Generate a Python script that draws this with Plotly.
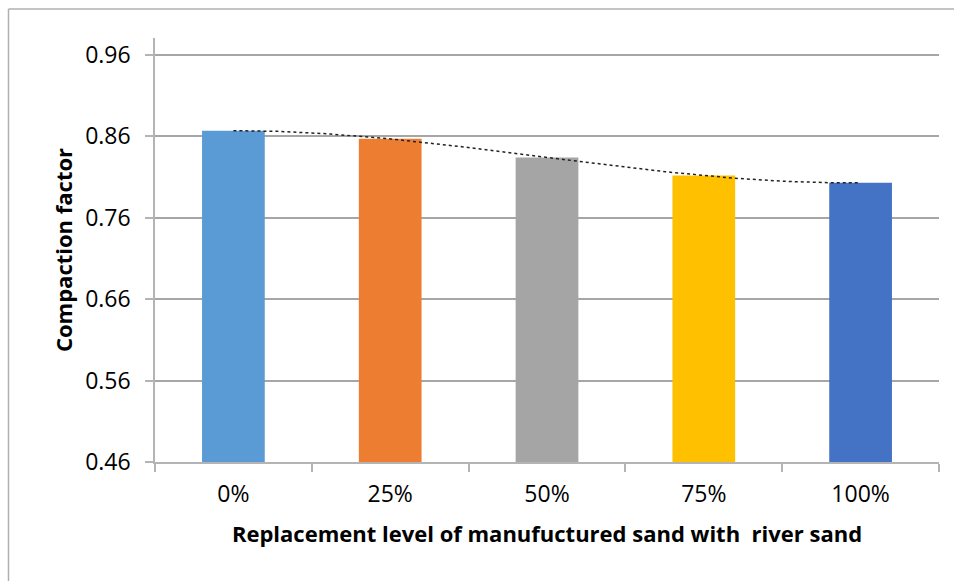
import numpy as np
import plotly.graph_objects as go

# Replacement level categories and measured compaction factor
levels = ["0%", "25%", "50%", "75%", "100%"]
compaction = [0.867, 0.857, 0.834, 0.812, 0.803]
bar_colors = ["#5B9BD5", "#ED7D31", "#A5A5A5", "#FFC000", "#4472C4"]
y_ticks = [0.46, 0.56, 0.66, 0.76, 0.86, 0.96]

W, H = 954, 581
ML, MR, MT, MB = 155, 15, 38, 119
PW, PH = W - ML - MR, H - MT - MB

# Polynomial (order 3) trendline through the bar values
pos = np.arange(len(levels))
coef = np.polyfit(pos, compaction, 3)
tx = np.linspace(0, len(levels) - 1, 200)
ty = np.polyval(coef, tx)

fig = go.Figure()
fig.add_trace(go.Bar(
    x=levels, y=compaction, marker=dict(color=bar_colors, line=dict(width=0)),
    width=0.4, showlegend=False, hoverinfo="x+y",
))
fig.add_trace(go.Scatter(
    x=tx, y=ty, xaxis="x2", mode="lines",
    line=dict(color="#222222", width=1.5, dash="dot"),
    showlegend=False, hoverinfo="skip",
))

font_main = "Open Sans, Lato, DejaVu Sans, sans-serif"


def px_to_paper_x(px):
    return (px - ML) / PW


def px_to_paper_y(py):
    return (H - MB - py) / PH


# Chart-area frame: left and top edges (the rest falls outside the page)
frame_line = dict(color="#b0b0b0", width=1.5)
frame = [
    dict(type="line", xref="paper", yref="paper",
         x0=px_to_paper_x(8.5), x1=px_to_paper_x(8.5),
         y0=px_to_paper_y(H + 5), y1=px_to_paper_y(9), line=frame_line, layer="above"),
    dict(type="line", xref="paper", yref="paper",
         x0=px_to_paper_x(8.5), x1=px_to_paper_x(W + 5),
         y0=px_to_paper_y(9), y1=px_to_paper_y(9), line=frame_line, layer="above"),
]

fig.update_layout(
    width=W, height=H,
    margin=dict(l=ML, r=MR, t=MT, b=MB, pad=0),
    paper_bgcolor="white", plot_bgcolor="white",
    font=dict(family=font_main, color="#000000"),
    xaxis=dict(
        type="category", range=[-0.5, 4.5],
        showline=True, linecolor="#b4b4b4", linewidth=1.5,
        ticks="outside", tickson="boundaries", ticklen=8, tickcolor="#b4b4b4", tickwidth=1.5,
        showgrid=False, tickfont=dict(size=23),
        ticklabelstandoff=11,
        title=dict(text="<b>Replacement level of manufuctured sand with  river sand</b>",
                   font=dict(size=22), standoff=18),
    ),
    xaxis2=dict(
        overlaying="x", range=[-0.5, 4.5], visible=False,
    ),
    yaxis=dict(
        range=[0.46, 0.46 + (PH / 81.4) * 0.1],
        tickvals=y_ticks, ticktext=[f"{v:.2f}" for v in y_ticks],
        showline=True, linecolor="#b4b4b4", linewidth=1.5,
        ticks="outside", ticklen=8, tickcolor="#b4b4b4", tickwidth=1.5,
        showgrid=True, gridcolor="#a6a6a6", gridwidth=1.5,
        zeroline=False, tickfont=dict(size=23),
        ticklabelstandoff=10,
        title=dict(text="<b>Compaction factor</b>", font=dict(size=22), standoff=6),
    ),
    shapes=frame,
)

fig.write_html("out.html")
